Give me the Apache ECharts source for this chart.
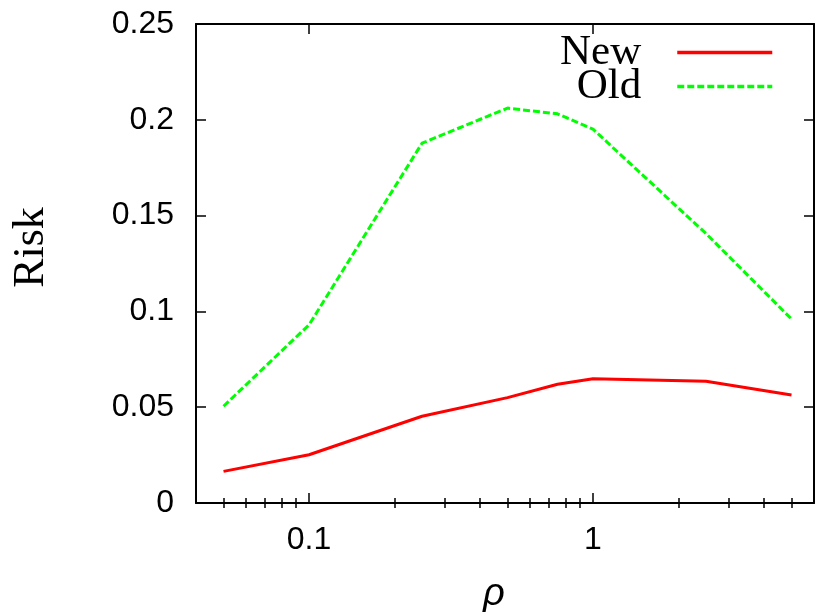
<!DOCTYPE html>
<html>
<head>
<meta charset="utf-8">
<script src="https://cdn.jsdelivr.net/npm/echarts@6/dist/echarts.min.js"></script>
<style>
	html, body { margin: 0; padding: 0; background: #fff; }
	#chart { width: 818px; height: 612px; }
</style>
</head>
<body>
<div id="chart"></div>
<script>
// 数据
const rho = [0.05, 0.1, 0.25, 0.5, 0.75, 1, 2.5, 5];
const riskNew = [0.0165, 0.0252, 0.0453, 0.055, 0.062, 0.0649, 0.0635, 0.0564];
const riskOld = [0.0505, 0.093, 0.1878, 0.2061, 0.2031, 0.1951, 0.1406, 0.096];
const majorTicks = [0.1, 1];
const minorTicks = [0.05, 0.06, 0.07, 0.08, 0.09, 0.2, 0.3, 0.4, 0.5, 0.6, 0.7, 0.8, 0.9, 2, 3, 4, 5];

const sansFont = "Liberation Sans";
const serifFont = "Liberation Serif";
const border = { show: true, onZero: false, lineStyle: { color: "#000", width: 2 } };

// x 轴（对数），主刻度 + 次刻度，上下都有
const xBase = { type: "log", logBase: 10, min: 0.04, max: 6, gridIndex: 0, splitLine: { show: false } };
const xAxes = [
	{
		...xBase,
		position: "bottom",
		axisLine: border,
		axisTick: { inside: true, length: 10, customValues: majorTicks, lineStyle: { color: "#000", width: 1.5 } },
		axisLabel: { customValues: majorTicks, margin: 21, fontFamily: sansFont, fontSize: 32, color: "#000" },
		name: "ρ",
		nameLocation: "middle",
		nameGap: 72,
		nameTextStyle: { fontFamily: sansFont, fontStyle: "italic", fontSize: 38, color: "#000", padding: [0, 22, 0, 0] }
	},
	{
		...xBase,
		position: "bottom",
		axisLine: { show: false },
		axisTick: { inside: true, length: 5, customValues: minorTicks, lineStyle: { color: "#000", width: 1.5 } },
		axisLabel: { show: false }
	},
	{
		...xBase,
		position: "top",
		axisLine: border,
		axisTick: { inside: true, length: 10, customValues: majorTicks, lineStyle: { color: "#000", width: 1.5 } },
		axisLabel: { show: false }
	},
	{
		...xBase,
		position: "top",
		axisLine: { show: false },
		axisTick: { inside: true, length: 5, customValues: minorTicks, lineStyle: { color: "#000", width: 1.5 } },
		axisLabel: { show: false }
	}
];

const yBase = { type: "value", min: 0, max: 0.25, interval: 0.05, splitLine: { show: false } };
const yAxes = [
	{
		...yBase,
		position: "left",
		axisLine: border,
		axisTick: { inside: true, length: 10, lineStyle: { color: "#000", width: 1.5 } },
		axisLabel: {
			margin: 22,
			fontFamily: sansFont,
			fontSize: 32,
			color: "#000",
			formatter: v => String(parseFloat(v.toFixed(2)))
		},
		name: "Risk",
		nameLocation: "middle",
		nameGap: 143,
		nameRotate: 90,
		nameTextStyle: { fontFamily: serifFont, fontSize: 44, color: "#000", padding: [0, 0, 0, 32] }
	},
	{
		...yBase,
		position: "right",
		axisLine: border,
		axisTick: { inside: true, length: 10, lineStyle: { color: "#000", width: 1.5 } },
		axisLabel: { show: false }
	}
];

const chart = echarts.init(document.getElementById("chart"), null, { renderer: "canvas" });
chart.setOption({
	animation: false,
	backgroundColor: "#fff",
	grid: { left: 196, right: 4, top: 24, bottom: 109, containLabel: false, outerBoundsMode: "none" },
	legend: {
		orient: "vertical",
		right: 39,
		top: 26,
		align: "right",
		itemWidth: 95,
		itemHeight: 14,
		itemGap: -9,
		lineStyle: { width: 3.5 },
		itemStyle: { opacity: 0 },
		textStyle: {
			fontFamily: serifFont,
			fontSize: 43,
			lineHeight: 35,
			color: "#000",
			padding: [0, 31, 0, 0]
		},
		data: ["New", "Old"]
	},
	xAxis: xAxes,
	yAxis: yAxes,
	series: [
		{
			name: "New",
			type: "line",
			symbol: "none",
			lineStyle: { color: "#ff0000", width: 3 },
			itemStyle: { color: "#ff0000" },
			data: rho.map((x, i) => [x, riskNew[i]])
		},
		{
			name: "Old",
			type: "line",
			symbol: "none",
			lineStyle: { color: "#00ff00", width: 3, type: [7, 3] },
			itemStyle: { color: "#00ff00" },
			data: rho.map((x, i) => [x, riskOld[i]])
		}
	]
});
</script>
</body>
</html>
